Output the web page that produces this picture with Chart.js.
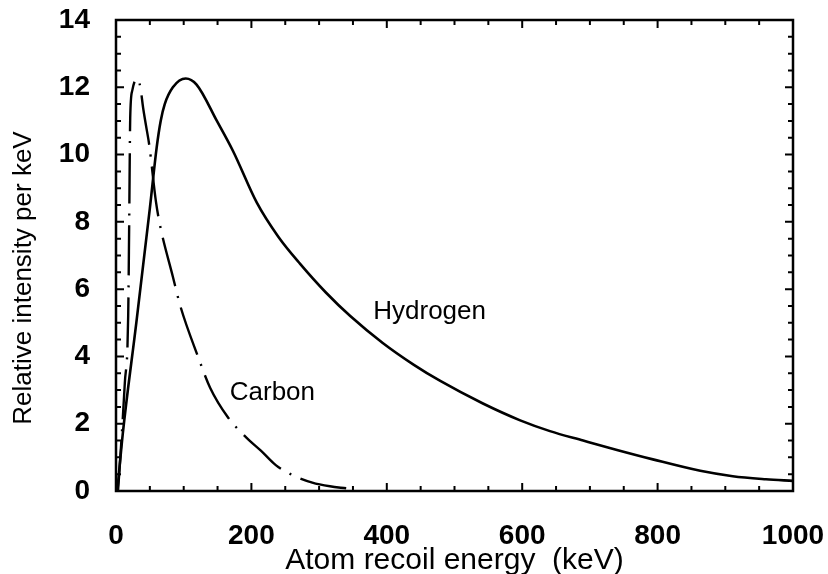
<!DOCTYPE html>
<html>
<head>
<meta charset="utf-8">
<script src="https://cdn.jsdelivr.net/npm/chart.js@4.4.1/dist/chart.umd.min.js"></script>
<style>
  html, body { margin: 0; padding: 0; background: #fff; }
  #wrap { width: 828px; height: 574px; }
</style>
</head>
<body>
<div id="wrap"><canvas id="myChart" width="828" height="574"></canvas></div>
<script>
// energies in keV and relative intensity per keV
const hydrogenKeV = [2, 10, 30, 50, 60, 66, 72, 84, 103, 119, 149, 173, 208, 240, 272, 310, 346, 394, 440, 479, 542, 597, 641, 690, 740, 793, 863, 911, 960, 1000];
const hydrogenVal = [0, 1.7, 5.0, 8.4, 10.2, 11.0, 11.5, 12.0, 12.26, 12.08, 11.0, 10.1, 8.57, 7.55, 6.75, 5.9, 5.2, 4.4, 3.75, 3.27, 2.6, 2.1, 1.78, 1.5, 1.22, 0.94, 0.6, 0.44, 0.35, 0.3];

const carbonKeV = [3, 8, 13, 18, 19.5, 21, 24, 31, 36, 40, 44, 49, 59, 65, 84, 95, 121, 139, 165, 193, 214, 236, 260, 290, 316, 340];
const carbonVal = [0, 1.5, 3.2, 5.2, 8.0, 11.1, 11.9, 12.26, 12.0, 11.4, 10.9, 10.3, 8.6, 7.9, 6.37, 5.5, 4.0, 3.07, 2.2, 1.58, 1.2, 0.77, 0.48, 0.25, 0.14, 0.08];

const xTicks = [0, 200, 400, 600, 800, 1000];
const yTicks = [0, 2, 4, 6, 8, 10, 12, 14];

// curve labels placed in data coordinates
const curveLabels = [
    { text: "Hydrogen", x: 380, y: 5.33 },
    { text: "Carbon", x: 168, y: 2.92 }
];

const xTitle = "Atom recoil energy  (keV)";
const yTitle = "Relative intensity per keV";

const FONT = "'Liberation Sans', Arial, Helvetica, sans-serif";

const toPoints = (xs, ys) => xs.map((x, i) => ({ x: x, y: ys[i] }));

// frame, inward ticks on all four sides, curve labels, y title
const framePlugin = {
    id: "frame",
    afterDraw(chart) {
        const ctx = chart.ctx;
        const a = chart.chartArea;
        const xs = chart.scales.x;
        const ys = chart.scales.y;
        ctx.save();
        ctx.strokeStyle = "#000";
        ctx.lineWidth = 2.5;
        ctx.strokeRect(a.left, a.top, a.right - a.left, a.bottom - a.top);

        ctx.lineWidth = 2;
        ctx.beginPath();
        for (var v = 50; v < 1000; v += 50) {
            const px = xs.getPixelForValue(v);
            const len = (v % 200 === 0) ? 8 : 5;
            ctx.moveTo(px, a.bottom);
            ctx.lineTo(px, a.bottom - len);
            ctx.moveTo(px, a.top);
            ctx.lineTo(px, a.top + len);
        }
        for (var w = 0.5; w < 14; w += 0.5) {
            const py = ys.getPixelForValue(w);
            const len = (w % 2 === 0) ? 8 : 5;
            ctx.moveTo(a.left, py);
            ctx.lineTo(a.left + len, py);
            ctx.moveTo(a.right, py);
            ctx.lineTo(a.right - len, py);
        }
        ctx.stroke();

        ctx.fillStyle = "#000";
        ctx.font = "26px " + FONT;
        ctx.textAlign = "left";
        ctx.textBaseline = "middle";
        curveLabels.forEach(l => {
            ctx.fillText(l.text, xs.getPixelForValue(l.x), ys.getPixelForValue(l.y));
        });

        ctx.translate(24, 278);
        ctx.rotate(-Math.PI / 2);
        ctx.textAlign = "center";
        ctx.fillText(yTitle, 0, 0);
        ctx.restore();
    }
};

var ctx = document.getElementById("myChart");
var config = {
    type: "line",
    data: {
        datasets: [{
            label: "Hydrogen",
            data: toPoints(hydrogenKeV, hydrogenVal),
            borderColor: "#000",
            borderWidth: 2.6,
            pointRadius: 0,
            cubicInterpolationMode: "monotone",
            fill: false
        }, {
            label: "Carbon",
            data: toPoints(carbonKeV, carbonVal),
            borderColor: "#000",
            borderWidth: 2.4,
            borderDash: [50, 10, 2, 10],
            pointRadius: 0,
            cubicInterpolationMode: "monotone",
            fill: false
        }]
    },
    options: {
        responsive: false,
        animation: false,
        layout: {
            padding: { left: 0, right: 35, top: 20, bottom: 0 }
        },
        plugins: {
            legend: { display: false },
            tooltip: { enabled: false }
        },
        scales: {
            x: {
                type: "linear",
                min: 0,
                max: 1000,
                afterFit: s => {
                    s.height = 83;
                    s.paddingLeft = 0;
                    s.paddingRight = 0;
                },
                afterBuildTicks: s => { s.ticks = xTicks.map(v => ({ value: v })); },
                grid: { display: false, drawTicks: false },
                border: { display: false },
                ticks: {
                    padding: 28,
                    color: "#000",
                    maxRotation: 0,
                    callback: v => String(v),
                    font: { family: FONT, size: 28, weight: "bold" }
                },
                title: {
                    display: true,
                    text: xTitle,
                    color: "#000",
                    padding: { top: 0, bottom: -5 },
                    font: { family: FONT, size: 30 }
                }
            },
            y: {
                type: "linear",
                min: 0,
                max: 14,
                afterFit: s => {
                    s.width = 116;
                    s.paddingTop = 0;
                    s.paddingBottom = 0;
                },
                afterBuildTicks: s => { s.ticks = yTicks.map(v => ({ value: v })); },
                grid: { display: false, drawTicks: false },
                border: { display: false },
                ticks: {
                    padding: 26,
                    color: "#000",
                    callback: v => String(v),
                    font: { family: FONT, size: 28, weight: "bold" }
                }
            }
        }
    },
    plugins: [framePlugin]
};
var myChart = new Chart(ctx, config);
</script>
</body>
</html>
